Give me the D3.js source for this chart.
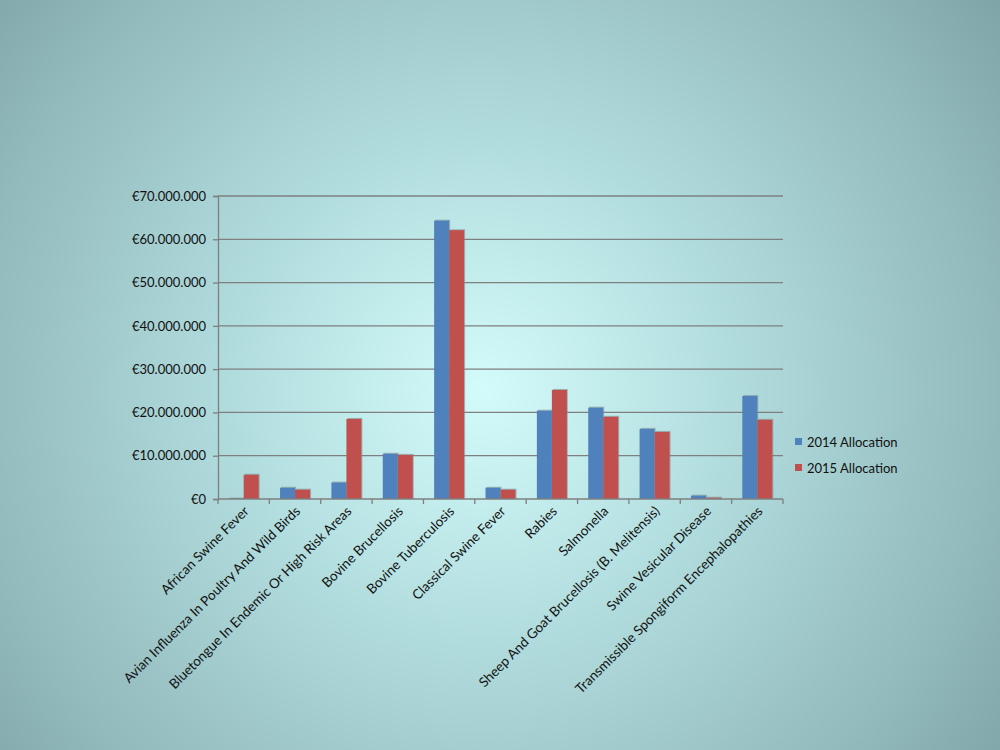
<!DOCTYPE html>
<html>
<head>
<meta charset="utf-8">
<script src="https://cdn.jsdelivr.net/npm/d3@7"></script>
<style>
  html, body { margin: 0; padding: 0; }
  svg text { font-family: Lato, "Open Sans", sans-serif; fill: #111; }
</style>
</head>
<body>
<div id="grafico"></div>
<script>
// dados
const categorias = [
  "African Swine Fever",
  "Avian Influenza In Poultry And Wild Birds",
  "Bluetongue In Endemic Or High Risk Areas",
  "Bovine Brucellosis",
  "Bovine Tuberculosis",
  "Classical Swine Fever",
  "Rabies",
  "Salmonella",
  "Sheep And Goat Brucellosis (B. Melitensis)",
  "Swine Vesicular Disease",
  "Transmissible Spongiform Encephalopathies"
];
const series = ["2014 Allocation", "2015 Allocation"];
const valores_2014 = [100000, 2600000, 3800000, 10450000, 64300000, 2600000, 20400000, 21100000, 16200000, 770000, 23800000];
const valores_2015 = [5600000, 2150000, 18500000, 10200000, 62100000, 2150000, 25200000, 19000000, 15500000, 300000, 18300000];
const ticks_y = [0, 10000000, 20000000, 30000000, 40000000, 50000000, 60000000, 70000000];
const cores = ["#4f81bd", "#c0504d"];

const largura = 1000, altura = 750;
const margem = { superior: 196, inferior: 251, esquerda: 218, direita: 217 };

const svg = d3.select("#grafico").append("svg")
    .attr("width", largura)
    .attr("height", altura)
    .attr("viewBox", [0, 0, largura, altura]);

// fundo em gradiente radial
const grad = svg.append("defs").append("radialGradient")
    .attr("id", "fundo")
    .attr("gradientUnits", "userSpaceOnUse")
    .attr("cx", 482).attr("cy", 390).attr("r", 720);
grad.append("stop").attr("offset", "0%").attr("stop-color", "#d4fbfb");
grad.append("stop").attr("offset", "35%").attr("stop-color", "#b1dcdd");
grad.append("stop").attr("offset", "70%").attr("stop-color", "#93babd");
grad.append("stop").attr("offset", "100%").attr("stop-color", "#759a9e");
svg.append("rect").attr("width", largura).attr("height", altura).attr("fill", "url(#fundo)");

// escalas
const escala_x = d3.scaleBand(categorias, [margem.esquerda, largura - margem.direita]);
const escala_serie = d3.scaleBand(series, [escala_x.bandwidth() * 0.208, escala_x.bandwidth() * 0.792]);
const escala_y = d3.scaleLinear([0, 70000000], [altura - margem.inferior, margem.superior]);
const formato = v => "€" + d3.format(",")(v).replace(/,/g, ".");

// grade horizontal
svg.append("g")
  .selectAll("line")
  .data(ticks_y.slice(1))
  .join("line")
    .attr("x1", margem.esquerda)
    .attr("x2", largura - margem.direita)
    .attr("y1", d => escala_y(d))
    .attr("y2", d => escala_y(d))
    .attr("stroke", "#7f7f7f")
    .attr("stroke-width", 1.3);

// eixo y
svg.append("g")
    .attr("class", "eixo_y")
    .attr("transform", `translate(${margem.esquerda},0)`)
    .call(d3.axisLeft(escala_y).tickValues(ticks_y).tickFormat(formato).tickSize(5).tickPadding(7))
    .call(g => g.selectAll(".domain, .tick line").attr("stroke", "#7f7f7f").attr("stroke-width", 1.3))
    .call(g => g.selectAll("text").attr("font-size", 13).attr("font-family", "Lato, sans-serif").attr("fill", "#111"));

// barras
const dados = categorias.map((c, i) => ({ categoria: c, valores: [valores_2014[i], valores_2015[i]] }));
const grupos = svg.append("g").attr("class", "barras")
  .selectAll("g")
  .data(dados)
  .join("g")
    .attr("transform", d => `translate(${escala_x(d.categoria)},0)`);

// sombra leve
grupos.selectAll("rect.sombra")
  .data(d => d.valores.map((v, j) => ({ serie: series[j], v, j })))
  .join("rect")
    .attr("class", "sombra")
    .attr("x", d => escala_serie(d.serie) + 1)
    .attr("y", d => escala_y(d.v) - 1)
    .attr("width", escala_serie.bandwidth())
    .attr("height", d => escala_y(0) - escala_y(d.v) + 1)
    .attr("fill", "#7f8f94")
    .attr("opacity", 0.6);

grupos.selectAll("rect.barra")
  .data(d => d.valores.map((v, j) => ({ serie: series[j], v, j })))
  .join("rect")
    .attr("class", "barra")
    .attr("x", d => escala_serie(d.serie))
    .attr("y", d => escala_y(d.v))
    .attr("width", escala_serie.bandwidth())
    .attr("height", d => escala_y(0) - escala_y(d.v))
    .attr("fill", d => cores[d.j]);

// eixo x
const eixo_x = svg.append("g")
    .attr("class", "eixo_x")
    .attr("transform", `translate(0,${altura - margem.inferior})`);
eixo_x.append("line")
    .attr("x1", margem.esquerda).attr("x2", largura - margem.direita)
    .attr("stroke", "#7f7f7f").attr("stroke-width", 1.3);
eixo_x.selectAll("line.tick")
  .data(categorias.map(c => escala_x(c)).concat([largura - margem.direita]))
  .join("line")
    .attr("class", "tick")
    .attr("x1", d => d).attr("x2", d => d)
    .attr("y1", 0).attr("y2", 5)
    .attr("stroke", "#7f7f7f").attr("stroke-width", 1.3);
eixo_x.selectAll("text")
  .data(categorias)
  .join("text")
    .attr("text-anchor", "end")
    .attr("font-size", 13.5)
    .attr("transform", d => `translate(${escala_x(d) + escala_x.bandwidth() / 2 + 6},${13}) rotate(-45)`)
    .text(d => d);

// legenda
const legenda = svg.append("g")
    .attr("transform", `translate(795,${escala_y(0) - 62})`)
  .selectAll("g")
  .data(series)
  .join("g")
    .attr("transform", (d, i) => `translate(0,${i * 26})`);
legenda.append("rect").attr("width", 7).attr("height", 7).attr("y", 1).attr("fill", (d, i) => cores[i]);
legenda.append("text").attr("x", 12).attr("y", 9.5).attr("font-size", 13).text(d => d);
</script>
</body>
</html>
